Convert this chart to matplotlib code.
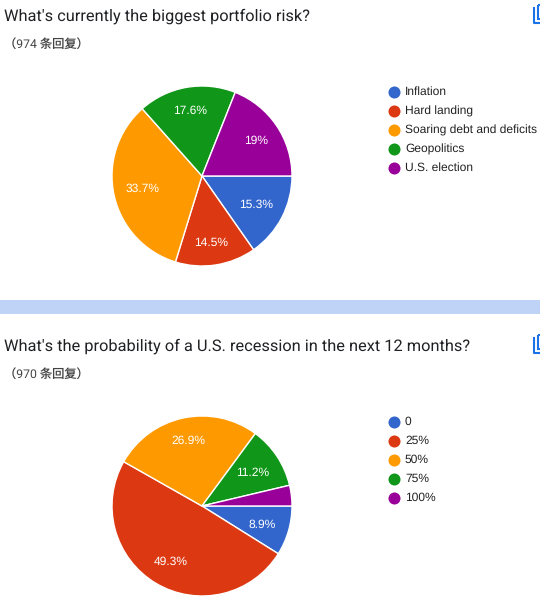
import matplotlib
matplotlib.use('Agg')
import matplotlib.pyplot as plt
from matplotlib.patches import Rectangle

plt.rcParams['font.family'] = ['Roboto', 'Noto Sans CJK SC', 'DejaVu Sans']
plt.rcParams['text.hinting'] = 'no_hinting'

# top chart
risk_title = "What's currently the biggest portfolio risk?"
risk_count = '（974 条回复）'
risk_labels = ['Inflation', 'Hard landing', 'Soaring debt and deficits', 'Geopolitics', 'U.S. election']
risk_values = [15.3, 14.5, 33.7, 17.6, 19]
risk_pct = ['15.3%', '14.5%', '33.7%', '17.6%', '19%']

# bottom chart
rec_title = "What's the probability of a U.S. recession in the next 12 months?"
rec_count = '（970 条回复）'
rec_labels = ['0', '25%', '50%', '75%', '100%']
rec_values = [8.9, 49.3, 26.9, 11.2, 3.7]
rec_pct = ['8.9%', '49.3%', '26.9%', '11.2%', '']

# label nudges in pixels (right, down), the default spot is a bit off
risk_nudge = [(0, 0), (0, 6), (0, 0), (-1, -5), (3, -1)]
rec_nudge = [(1, 2), (0, 3), (-1, -5), (0, 1), (0, 0)]

colors = ['#3366cc', '#dc3912', '#ff9900', '#109618', '#990099']
icon_blue = '#1a73e8'
W, H = 540, 614

fig = plt.figure(figsize=(W / 100, H / 100), dpi=100)

# overlay in pixel coordinates for text, legend and the band
bg = fig.add_axes([0, 0, 1, 1])
bg.set_xlim(0, W)
bg.set_ylim(H, 0)
bg.axis('off')


def draw_pie(cx, cy, r, values, pct, nudge):
    ax = fig.add_axes([(cx - r) / W, 1 - (cy + r) / H, 2 * r / W, 2 * r / H])
    wedges, texts = ax.pie(values, colors=colors, startangle=0, counterclock=False, radius=1,
                           labels=pct, labeldistance=0.68,
                           wedgeprops={'edgecolor': 'white', 'linewidth': 1.0},
                           textprops={'color': 'white', 'fontsize': 8.64, 'family': 'Liberation Sans'})
    for t, (dx, dy) in zip(texts, nudge):
        x, y = t.get_position()
        t.set_position((x + dx / r, y - dy / r))
        t.set_ha('center')
        t.set_va('center')
    ax.set_xlim(-1, 1)
    ax.set_ylim(-1, 1)


def draw_legend(x, y0, labels):
    for i, lab in enumerate(labels):
        y = y0 + i * 19
        bg.scatter([x], [y - 0.5], s=75, color=colors[i], linewidths=0)
        bg.text(x + 11, y, lab, fontsize=8.64, color='#222222', va='center', family='Liberation Sans')


def draw_icon(y):
    # copy icon at right edge, cut off by the image border
    bg.plot([533.5, 533.5, 541], [y + 3, y + 18, y + 18], color=icon_blue, lw=1.5)
    bg.add_patch(Rectangle((537.5, y), 8, 14, fill=False, ec=icon_blue, lw=1.5))


bg.text(4, 16, risk_title, fontsize=11.8, color='#202124', va='center')
bg.text(4, 44, risk_count, fontsize=8.8, color='#444444', va='center')
draw_pie(202, 176, 90, risk_values, risk_pct, risk_nudge)
draw_legend(394, 92, risk_labels)
draw_icon(5)

bg.add_patch(Rectangle((0, 300), W, 14, color='#bfd3f7', lw=0))

bg.text(4, 346, rec_title, fontsize=11.8, color='#202124', va='center')
bg.text(4, 374, rec_count, fontsize=8.8, color='#444444', va='center')
draw_pie(202, 506, 90, rec_values, rec_pct, rec_nudge)
draw_legend(394, 422, rec_labels)
draw_icon(335)

bg.set_xlim(0, W)
bg.set_ylim(H, 0)
fig.savefig('out.png', dpi=100)
